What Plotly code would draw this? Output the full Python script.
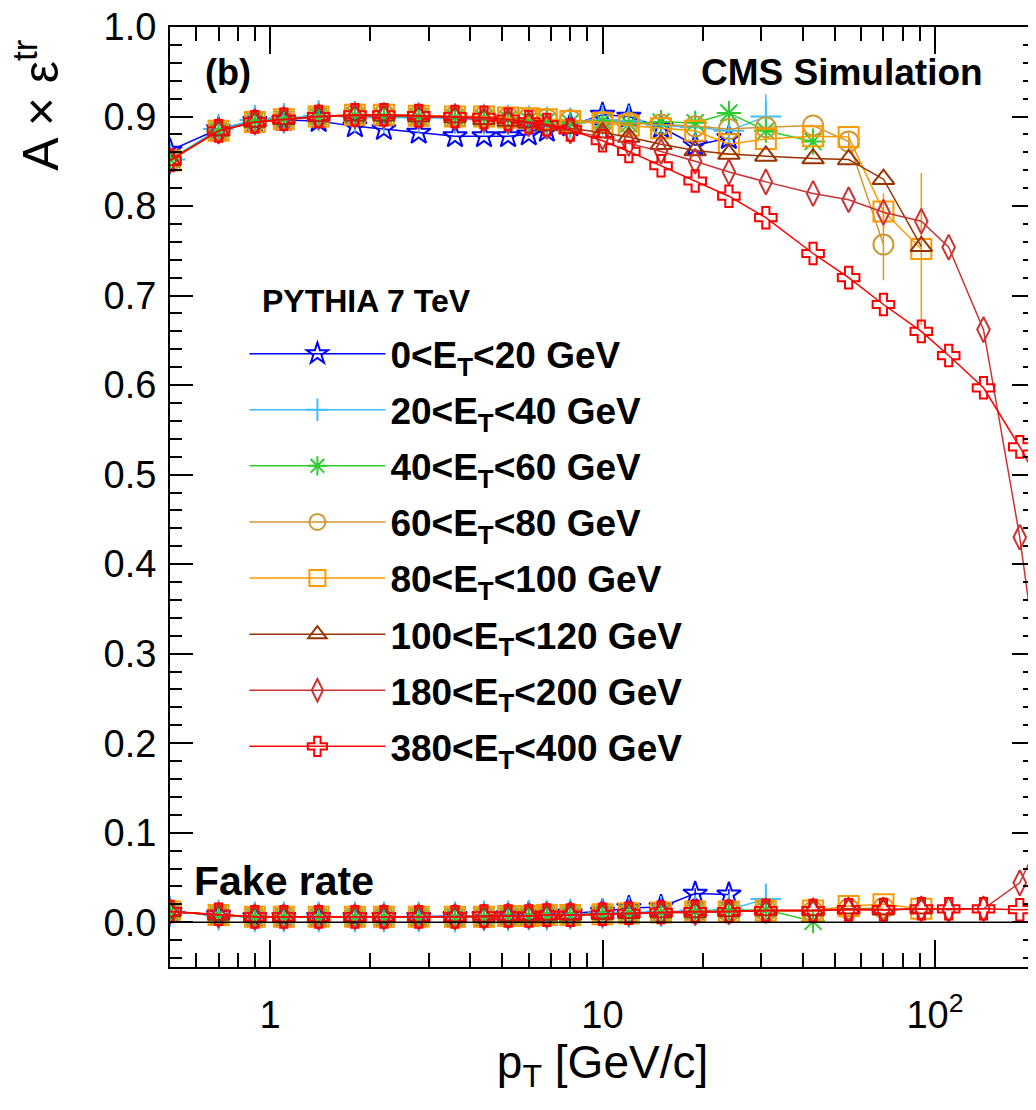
import plotly.graph_objects as go

# ---------------- data ----------------
pt = [0.5, 0.7, 0.9, 1.1, 1.4, 1.8, 2.2, 2.8, 3.6, 4.4, 5.2, 6.0, 6.8, 8.0, 10, 12, 15, 19, 24,
      31, 43, 55, 70, 91, 110, 140, 180, 230]

labels = ["0<E<sub>T</sub><20 GeV", "20<E<sub>T</sub><40 GeV", "40<E<sub>T</sub><60 GeV",
          "60<E<sub>T</sub><80 GeV", "80<E<sub>T</sub><100 GeV", "100<E<sub>T</sub><120 GeV",
          "180<E<sub>T</sub><200 GeV", "380<E<sub>T</sub><400 GeV"]

eff_0_20 = [0.862, 0.886, 0.895, 0.896, 0.895, 0.889, 0.886, 0.882, 0.878, 0.878, 0.878, 0.880,
            0.884, 0.890, 0.902, 0.900, 0.888, 0.868, 0.876]
eff_20_40 = [0.852, 0.886, 0.896, 0.898, 0.901, 0.900, 0.899, 0.899, 0.898, 0.897, 0.896, 0.895,
             0.894, 0.893, 0.896, 0.895, 0.890, 0.888, 0.884, 0.900]
eff_40_60 = [0.852, 0.884, 0.895, 0.897, 0.900, 0.901, 0.900, 0.900, 0.899, 0.898, 0.897, 0.896,
             0.895, 0.893, 0.895, 0.892, 0.894, 0.893, 0.904, 0.884, 0.872]
eff_60_80 = [0.851, 0.884, 0.894, 0.896, 0.900, 0.902, 0.902, 0.901, 0.900, 0.900, 0.899, 0.898,
             0.897, 0.896, 0.894, 0.893, 0.891, 0.889, 0.886, 0.888, 0.890, 0.872, 0.757]
eff_80_100 = [0.851, 0.884, 0.894, 0.897, 0.900, 0.902, 0.902, 0.901, 0.900, 0.900, 0.899, 0.898,
              0.897, 0.895, 0.893, 0.890, 0.887, 0.884, 0.869, 0.875, 0.878, 0.877, 0.794, 0.752]
eff_100_120 = [0.851, 0.884, 0.894, 0.897, 0.900, 0.901, 0.901, 0.900, 0.899, 0.897, 0.895, 0.893,
               0.890, 0.887, 0.882, 0.877, 0.869, 0.862, 0.858, 0.856, 0.853, 0.852, 0.830, 0.755]
eff_180_200 = [0.851, 0.884, 0.894, 0.897, 0.900, 0.901, 0.901, 0.900, 0.899, 0.897, 0.895, 0.892,
               0.889, 0.884, 0.877, 0.870, 0.861, 0.850, 0.838, 0.827, 0.814, 0.807, 0.793, 0.783,
               0.754, 0.662, 0.430, 0.140]
eff_380_400 = [0.851, 0.884, 0.894, 0.897, 0.900, 0.902, 0.902, 0.901, 0.900, 0.899, 0.897, 0.894,
               0.891, 0.885, 0.873, 0.861, 0.845, 0.828, 0.811, 0.787, 0.747, 0.720, 0.690, 0.660,
               0.633, 0.597, 0.531, 0.460]

err_0_20 = [0] * 19
err_20_40 = [0] * 15 + [0.008, 0.008, 0.008, 0.010, 0.025]
err_40_60 = [0] * 18 + [0.010, 0.012, 0.015]
err_60_80 = [0] * 21 + [0.010, 0.040]
err_80_100 = [0] * 22 + [0.020, 0.085]
err_100_120 = [0] * 24
err_180_200 = [0] * 28
err_380_400 = [0] * 28

fake_0_20 = [0.012, 0.008, 0.006, 0.006, 0.006, 0.006, 0.006, 0.006, 0.007, 0.007, 0.008, 0.009,
             0.009, 0.010, 0.012, 0.016, 0.017, 0.032, 0.031]
fake_20_40 = [0.012, 0.008, 0.006, 0.006, 0.006, 0.006, 0.006, 0.006, 0.006, 0.007, 0.007, 0.008,
              0.008, 0.009, 0.010, 0.011, 0.012, 0.013, 0.014, 0.026]
fake_40_60 = [0.012, 0.008, 0.006, 0.006, 0.006, 0.006, 0.006, 0.006, 0.006, 0.006, 0.007, 0.007,
              0.008, 0.008, 0.009, 0.010, 0.011, 0.012, 0.013, 0.014, 0.001]
fake_60_80 = [0.012, 0.008, 0.006, 0.006, 0.006, 0.006, 0.006, 0.006, 0.006, 0.006, 0.007, 0.007,
              0.008, 0.008, 0.009, 0.010, 0.011, 0.012, 0.012, 0.013, 0.012, 0.015, 0.016]
fake_80_100 = [0.012, 0.008, 0.006, 0.006, 0.006, 0.006, 0.006, 0.006, 0.006, 0.006, 0.007, 0.007,
               0.008, 0.008, 0.009, 0.010, 0.011, 0.012, 0.012, 0.013, 0.013, 0.018, 0.020, 0.015]
fake_100_120 = [0.012, 0.008, 0.006, 0.006, 0.006, 0.006, 0.006, 0.006, 0.006, 0.006, 0.007, 0.007,
                0.008, 0.008, 0.009, 0.010, 0.011, 0.011, 0.012, 0.013, 0.013, 0.015, 0.014, 0.015]
fake_180_200 = [0.012, 0.008, 0.006, 0.006, 0.006, 0.006, 0.006, 0.006, 0.006, 0.006, 0.007, 0.007,
                0.008, 0.008, 0.009, 0.010, 0.011, 0.011, 0.012, 0.013, 0.013, 0.014, 0.014, 0.015,
                0.014, 0.015, 0.044, 0.130]
fake_380_400 = [0.012, 0.009, 0.006, 0.006, 0.006, 0.006, 0.006, 0.006, 0.006, 0.007, 0.007, 0.007,
                0.008, 0.008, 0.009, 0.010, 0.011, 0.012, 0.012, 0.013, 0.013, 0.014, 0.014, 0.015,
                0.015, 0.015, 0.014, 0.015]

fake_err_0_20 = [0] * 17 + [0.006, 0.006]
fake_err_20_40 = [0] * 19 + [0.012]

colors = ["#0000ff", "#3fbfff", "#2ecc2e", "#cc9933", "#ff9900", "#993300", "#cc3333", "#ff0000"]
symbols = ["star-open", "cross-thin-open", "asterisk-open", "circle-open", "square-open",
           "triangle-up-open", "diamond-tall-open", "cross-open"]
sizes = [18, 22, 20, 20, 20, 19, 18, 18]

effs = [eff_0_20, eff_20_40, eff_40_60, eff_60_80, eff_80_100, eff_100_120, eff_180_200, eff_380_400]
errs = [err_0_20, err_20_40, err_40_60, err_60_80, err_80_100, err_100_120, err_180_200, err_380_400]
fakes = [fake_0_20, fake_20_40, fake_40_60, fake_60_80, fake_80_100, fake_100_120, fake_180_200,
         fake_380_400]
fake_errs = [fake_err_0_20, fake_err_20_40, None, None, None, None, None, None]

FONT = "Liberation Sans, Arial, Helvetica, sans-serif"

fig = go.Figure()

for i in range(len(labels)):
    n = len(effs[i])
    fig.add_trace(go.Scatter(
        x=pt[:n], y=effs[i], mode="lines+markers", name=labels[i],
        legendgroup=f"g{i}", cliponaxis=True,
        line=dict(color=colors[i], width=1.5),
        marker=dict(symbol=symbols[i], size=sizes[i], color=colors[i],
                    line=dict(color=colors[i], width=2)),
        error_y=dict(type="data", array=errs[i], visible=True, thickness=1.5, width=0,
                     color=colors[i]),
    ))

for i in range(len(labels)):
    n = len(fakes[i])
    ey = dict(type="data", array=fake_errs[i], visible=True, thickness=1.5, width=0,
              color=colors[i]) if fake_errs[i] else None
    fig.add_trace(go.Scatter(
        x=pt[:n], y=fakes[i], mode="lines+markers", name=labels[i],
        legendgroup=f"g{i}", showlegend=False, cliponaxis=True,
        line=dict(color=colors[i], width=1.5),
        marker=dict(symbol=symbols[i], size=sizes[i], color=colors[i],
                    line=dict(color=colors[i], width=2)),
        error_y=ey,
    ))

# page body has an 8px margin: figure is sized so the plot frame lands where the reference has it
fig.update_layout(
    width=1028, height=1102,
    margin=dict(l=162, r=1, t=19, b=143, autoexpand=False),
    paper_bgcolor="white", plot_bgcolor="white",
    font=dict(family=FONT, color="black"),
    legend=dict(
        x=0.086, y=0.685, xanchor="left", yanchor="top",
        bgcolor="rgba(0,0,0,0)",
        font=dict(family=FONT, size=37, color="black", weight="bold"),
        traceorder="grouped", tracegroupgap=5, itemwidth=136,
    ),
    annotations=[
        dict(text="<b>(b)</b>", x=0.038, y=0.952, xref="paper", yref="paper",
             xanchor="left", yanchor="middle", showarrow=False, font=dict(size=36)),
        dict(text="<b>CMS Simulation</b>", x=0.942, y=0.952, xref="paper", yref="paper",
             xanchor="right", yanchor="middle", showarrow=False, font=dict(size=37)),
        dict(text="<b>Fake rate</b>", x=0.026, y=0.091, xref="paper", yref="paper",
             xanchor="left", yanchor="middle", showarrow=False, font=dict(size=41)),
        dict(text="<b>PYTHIA 7 TeV</b>", x=0.104, y=0.709, xref="paper", yref="paper",
             xanchor="left", yanchor="middle", showarrow=False, font=dict(size=32)),
        dict(text="A × ε<sup>tr</sup>", x=-0.154, y=0.917, xref="paper", yref="paper",
             xanchor="center", yanchor="middle", textangle=-90, showarrow=False,
             font=dict(size=50)),
    ],
    shapes=[
        dict(type="line", xref="paper", x0=0, x1=1, yref="y", y0=0, y1=0,
             line=dict(color="black", width=1.5)),
    ],
)

fig.update_xaxes(
    type="log", range=[-0.30103, 2.30103], automargin=False,
    tickmode="array", tickvals=[1, 10, 100], ticktext=["1", "10", "10<sup>2</sup>"],
    ticks="inside", ticklen=27, tickwidth=2, tickcolor="black",
    minor=dict(tickmode="array",
               tickvals=[0.6, 0.7, 0.8, 0.9, 2, 3, 4, 5, 6, 7, 8, 9,
                         20, 30, 40, 50, 60, 70, 80, 90, 200],
               ticks="inside", ticklen=14, tickwidth=2, tickcolor="black"),
    showline=True, linecolor="black", linewidth=2, mirror="allticks",
    showgrid=False, zeroline=False, ticklabeloverflow="allow",
    tickfont=dict(size=38, family=FONT), ticklabelstandoff=13,
    title=dict(text="p<sub>T</sub> [GeV/c]", font=dict(size=46, family=FONT), standoff=4),
)

fig.update_yaxes(
    range=[-0.05, 1.0], automargin=False,
    tickmode="array", tickvals=[0, 0.1, 0.2, 0.3, 0.4, 0.5, 0.6, 0.7, 0.8, 0.9, 1.0],
    ticktext=["0.0", "0.1", "0.2", "0.3", "0.4", "0.5", "0.6", "0.7", "0.8", "0.9", "1.0"],
    ticks="inside", ticklen=23, tickwidth=2, tickcolor="black",
    minor=dict(dtick=0.02, ticks="inside", ticklen=12, tickwidth=2, tickcolor="black"),
    showline=True, linecolor="black", linewidth=2, mirror="allticks",
    showgrid=False, zeroline=False, ticklabeloverflow="allow",
    tickfont=dict(size=38, family=FONT), ticklabelstandoff=4,
)

fig.write_html("out.html")
